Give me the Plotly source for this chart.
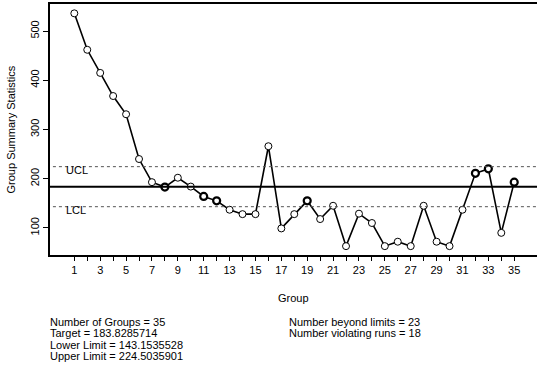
import plotly.graph_objects as go

groups = list(range(1, 36))
stats = [536, 462, 415, 368, 331, 240, 193, 183, 202, 184,
         164, 155, 137, 128, 128, 266, 99, 128, 155, 118,
         145, 63, 129, 110, 63, 72, 63, 145, 72, 63,
         137, 211, 220, 90, 193]
bold_groups = [8, 11, 12, 19, 32, 33, 35]
target = 183.8285714
lcl = 143.1535528
ucl = 224.5035901
x_ticks = list(range(1, 36))
x_labels = [str(g) if g % 2 == 1 else "" for g in x_ticks]
y_ticks = [100, 200, 300, 400, 500]
summary_left = ["Number of Groups = 35", "Target = 183.8285714",
                "Lower Limit = 143.1535528", "Upper Limit = 224.5035901"]
summary_right = ["Number beyond limits = 23", "Number violating runs = 18"]

FONT = "Liberation Sans, Arial, sans-serif"

fig = go.Figure()
# control lines
for val in [ucl, lcl]:
    fig.add_shape(type="line", xref="paper", x0=0.006, x1=1, yref="y", y0=val, y1=val,
                  line=dict(color="#555", width=1, dash="dot"))
fig.add_shape(type="line", xref="paper", x0=0, x1=1, yref="y", y0=target, y1=target,
              line=dict(color="black", width=2))

lw = [2.2 if g in bold_groups else 1.0 for g in groups]
fig.add_trace(go.Scatter(x=groups, y=stats, mode="lines+markers",
                         line=dict(color="black", width=1.6),
                         marker=dict(symbol="circle", size=7, color="white",
                                     line=dict(color="black", width=lw)),
                         showlegend=False))

ann = []
ann.append(dict(text="UCL", xref="paper", x=0, xshift=14, xanchor="left",
                yref="y", y=ucl, yshift=-3, yanchor="middle", showarrow=False,
                font=dict(size=11, family=FONT, color="black")))
ann.append(dict(text="LCL", xref="paper", x=0, xshift=14, xanchor="left",
                yref="y", y=lcl, yshift=-3, yanchor="middle", showarrow=False,
                font=dict(size=11, family=FONT, color="black")))
ann.append(dict(text="Group", xref="paper", x=0.5, xanchor="center",
                yref="paper", y=0, yshift=-43, yanchor="middle", showarrow=False,
                font=dict(size=11, family=FONT, color="black")))
ann.append(dict(text="Group Summary Statistics", xref="paper", x=0, xshift=-40,
                xanchor="center", yref="paper", y=0.5, yanchor="middle", textangle=-90,
                showarrow=False, font=dict(size=11, family=FONT, color="black")))
for i, t in enumerate(summary_left):
    ann.append(dict(text=t, xref="paper", x=0, xshift=-2, xanchor="left",
                    yref="paper", y=0, yshift=-67 - i * 11.4, yanchor="middle",
                    showarrow=False, font=dict(size=11, family=FONT, color="black")))
for i, t in enumerate(summary_right):
    ann.append(dict(text=t, xref="paper", x=0, xshift=237, xanchor="left",
                    yref="paper", y=0, yshift=-67 - i * 11.4, yanchor="middle",
                    showarrow=False, font=dict(size=11, family=FONT, color="black")))

fig.update_layout(
    width=537, height=369,
    margin=dict(l=50, r=0, t=4, b=114),
    paper_bgcolor="white", plot_bgcolor="white",
    font=dict(family=FONT, size=11, color="black"),
    annotations=ann,
    xaxis=dict(range=[-0.88, 36.76], tickmode="array", tickvals=x_ticks, ticktext=x_labels,
               ticks="outside", ticklen=4, tickwidth=1, tickcolor="black",
               showline=True, linecolor="black", linewidth=1.5, mirror=True,
               showgrid=False, zeroline=False, tickfont=dict(size=11), automargin=False),
    yaxis=dict(range=[45, 555], tickmode="array", tickvals=y_ticks,
               ticks="outside", ticklen=5, tickwidth=1, tickcolor="black", tickangle=-90,
               showline=True, linecolor="black", linewidth=1.5, mirror=False,
               showgrid=False, zeroline=False, tickfont=dict(size=11), automargin=False),
)

fig.write_html("out.html", config={"displayModeBar": False},
               post_script="document.body.style.margin='0';document.body.style.overflow='hidden';")
